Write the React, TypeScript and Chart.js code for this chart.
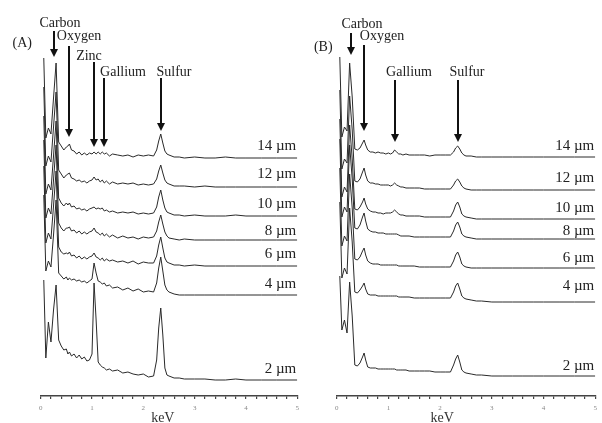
import React, { useEffect, useRef } from "react";
import { Chart, registerables } from "chart.js";

Chart.register(...registerables);

// ---------- DATA ----------
// Energy grid (keV) shared by every spectrum
const energyKeV = [
  0.06, 0.1, 0.15, 0.2, 0.25, 0.3, 0.35,
  0.4, 0.45, 0.5, 0.53, 0.56,
  0.6, 0.65, 0.7, 0.75, 0.8,
  0.85, 0.9, 0.95, 1.0, 1.04,
  1.08, 1.12, 1.16, 1.2, 1.24,
  1.28, 1.34, 1.4, 1.5, 1.6,
  1.7, 1.8, 1.9, 2.0, 2.1,
  2.2, 2.26, 2.3, 2.34, 2.38,
  2.42, 2.46, 2.5, 2.6, 2.7,
  2.8, 3.0, 3.2, 3.4, 3.6,
  3.8, 4.0, 4.3, 4.6, 5.0,
];

const thicknessLabels = ["14 µm", "12 µm", "10 µm", "8 µm", "6 µm", "4 µm", "2 µm"];

// Vertical stacking offset of each spectrum (counts, arbitrary units)
const stackOffsetA = [238, 209, 180, 156, 130, 101, 16];
const stackOffsetB = [239, 206, 177, 157, 128, 94, 20];

// Panel (A) intensities (arbitrary counts above each spectrum's tail)
const countsA14 = [100, 20, 30, 24, 60, 95, 16, 12, 8, 11, 12, 14, 8, 7, 4, 6, 3, 5, 3, 5, 4, 6, 4, 6, 4, 6, 4, 5, 2, 4, 3, 2, 3, 1, 3, 2, 3, 2, 8, 17, 24, 15, 7, 4, 3, 1, 1, 0, 1, 0, 0, 1, 0, 0, 0, 0, 0];
const countsA12 = [100, 21, 31, 25, 60, 95, 17, 13, 9, 12, 13, 14, 9, 8, 6, 7, 5, 6, 4, 6, 7, 10, 7, 8, 5, 7, 4, 6, 3, 5, 3, 4, 3, 4, 2, 3, 2, 3, 8, 16, 22, 14, 7, 4, 3, 1, 1, 1, 0, 1, 0, 0, 0, 0, 0, 0, 0];
const countsA10 = [100, 22, 32, 26, 60, 95, 18, 13, 10, 13, 11, 13, 9, 10, 7, 8, 6, 7, 5, 7, 8, 9, 7, 8, 7, 8, 5, 6, 4, 5, 3, 4, 3, 4, 2, 3, 2, 3, 9, 19, 26, 16, 8, 4, 3, 1, 1, 0, 1, 0, 0, 0, 1, 0, 0, 0, 0];
const countsA8 = [100, 22, 32, 26, 60, 95, 17, 12, 9, 12, 12, 13, 9, 10, 7, 9, 6, 8, 6, 8, 9, 12, 8, 7, 5, 7, 4, 6, 3, 5, 2, 4, 2, 3, 1, 3, 2, 3, 9, 18, 25, 16, 8, 4, 2, 1, 0, 1, 0, 0, 0, 0, 0, 0, 0, 0, 0];
const countsA6 = [100, 23, 33, 27, 60, 95, 19, 14, 12, 13, 12, 14, 10, 11, 8, 10, 7, 9, 7, 9, 10, 13, 9, 8, 6, 8, 5, 7, 5, 6, 4, 5, 3, 5, 2, 4, 3, 3, 10, 21, 29, 18, 8, 4, 3, 1, 1, 0, 1, 0, 0, 0, 0, 0, 0, 0, 0];
const countsA4 = [100, 24, 34, 28, 60, 95, 22, 19, 16, 18, 15, 17, 15, 16, 14, 15, 13, 14, 12, 14, 16, 32, 22, 14, 13, 11, 12, 9, 10, 7, 8, 5, 7, 4, 6, 3, 4, 3, 12, 27, 38, 24, 10, 5, 3, 1, 0, 0, 0, 0, 0, 0, 0, 0, 0, 0, 0];
const countsA2 = [100, 22, 58, 38, 70, 95, 40, 34, 30, 31, 26, 28, 24, 26, 22, 25, 21, 23, 19, 20, 26, 97, 60, 18, 15, 13, 12, 10, 11, 9, 10, 7, 8, 6, 5, 6, 3, 4, 20, 52, 72, 45, 12, 5, 4, 2, 2, 1, 1, 1, 0, 0, 1, 0, 0, 0, 0];

// Panel (B) intensities
const countsB14 = [100, 20, 30, 26, 94, 60, 8, 7, 9, 14, 17, 12, 7, 5, 5, 4, 5, 4, 4, 3, 4, 3, 4, 7, 5, 3, 3, 2, 3, 2, 2, 2, 2, 1, 2, 2, 2, 2, 5, 9, 11, 8, 4, 2, 1, 1, 0, 0, 0, 0, 0, 0, 0, 0, 0, 0, 0];
const countsB12 = [100, 21, 31, 27, 94, 60, 9, 8, 11, 18, 22, 15, 9, 7, 7, 6, 6, 5, 5, 5, 5, 4, 5, 7, 5, 4, 3, 3, 2, 2, 2, 2, 1, 1, 1, 1, 1, 1, 5, 9, 11, 8, 4, 2, 1, 0, 0, 0, 0, 0, 0, 0, 0, 0, 0, 0, 0];
const countsB10 = [100, 22, 32, 27, 94, 60, 10, 9, 12, 17, 21, 15, 10, 8, 7, 7, 6, 6, 5, 6, 6, 6, 7, 9, 7, 5, 4, 4, 3, 3, 3, 3, 2, 2, 2, 2, 2, 2, 8, 14, 17, 12, 5, 3, 2, 1, 0, 0, 0, 0, 0, 0, 0, 0, 0, 0, 0];
const countsB8 = [100, 22, 32, 27, 94, 60, 11, 10, 14, 22, 26, 18, 10, 8, 7, 7, 6, 6, 6, 5, 5, 5, 5, 5, 5, 4, 3, 3, 3, 3, 2, 2, 2, 2, 2, 2, 2, 2, 8, 14, 17, 12, 5, 3, 2, 1, 0, 0, 0, 0, 0, 0, 0, 0, 0, 0, 0];
const countsB6 = [100, 22, 32, 27, 94, 60, 9, 8, 11, 17, 20, 13, 7, 5, 4, 4, 4, 3, 3, 3, 3, 3, 3, 3, 3, 2, 2, 2, 2, 2, 2, 1, 1, 1, 1, 1, 1, 1, 7, 13, 16, 11, 4, 2, 1, 0, 0, 0, 0, 0, 0, 0, 0, 0, 0, 0, 0];
const countsB4 = [100, 24, 34, 28, 94, 60, 10, 9, 12, 16, 19, 13, 8, 7, 7, 7, 6, 6, 6, 6, 6, 6, 6, 6, 6, 5, 5, 5, 5, 5, 4, 4, 4, 4, 4, 4, 4, 4, 10, 16, 19, 13, 6, 4, 3, 2, 1, 1, 0, 0, 0, 0, 0, 0, 0, 0, 0];
const countsB2 = [100, 46, 56, 43, 94, 60, 11, 10, 13, 19, 23, 16, 9, 8, 8, 8, 7, 7, 7, 7, 7, 7, 7, 7, 6, 6, 6, 6, 6, 5, 5, 5, 5, 5, 4, 4, 4, 4, 11, 17, 21, 14, 6, 4, 3, 2, 1, 1, 0, 0, 0, 0, 0, 0, 0, 0, 0];

const tracesA = [countsA14, countsA12, countsA10, countsA8, countsA6, countsA4, countsA2];
const tracesB = [countsB14, countsB12, countsB10, countsB8, countsB6, countsB4, countsB2];

// Element lines marked by arrows
const elementsA = ["Carbon", "Oxygen", "Zinc", "Gallium", "Sulfur"];
const elementKeVA = [0.25, 0.56, 1.04, 1.23, 2.34];
const elementsB = ["Carbon", "Oxygen", "Gallium", "Sulfur"];
const elementKeVB = [0.27, 0.52, 1.13, 2.35];

// ---------- LAYOUT (annotation placement, in axis units / pixels) ----------
const layoutA = {
  panel: "(A)",
  panelKeV: -0.36,
  panelY: 349,
  arrowTop: [365, 350, 334, 318, 318],
  arrowTip: [339, 259, 249, 249, 265],
  labelDx: [6, 10, -5, 19, 13],
  labelY: [369, 356, 336, 320, 320],
  thickY: [246, 218, 188, 161, 138, 108, 23],
  titleKeV: 2.38,
};
const layoutB = {
  panel: "(B)",
  panelKeV: -0.26,
  panelY: 345,
  arrowTop: [363, 351, 316, 316],
  arrowTip: [341, 265, 254, 254],
  labelDx: [11, 18, 14, 9],
  labelY: [368, 356, 320, 320],
  thickY: [246, 214, 184, 161, 134, 106, 26],
  titleKeV: 2.04,
};

const SERIF = '"Liberation Serif", "Times New Roman", serif';

function makeAnnotationPlugin(layout: any, elements: string[], elementKeV: number[]) {
  return {
    id: "edsAnnotations",
    afterDraw(chart: any) {
      const { ctx, chartArea } = chart;
      const x = chart.scales.x;
      const y = chart.scales.y;
      ctx.save();
      // arrows + element names
      elementKeV.forEach((k, i) => {
        const px = Math.round(x.getPixelForValue(k));
        const yTop = y.getPixelForValue(layout.arrowTop[i]);
        const yTip = y.getPixelForValue(layout.arrowTip[i]);
        ctx.strokeStyle = "#111";
        ctx.lineWidth = 2;
        ctx.beginPath();
        ctx.moveTo(px, yTop);
        ctx.lineTo(px, yTip - 6);
        ctx.stroke();
        ctx.fillStyle = "#111";
        ctx.beginPath();
        ctx.moveTo(px - 4, yTip - 8);
        ctx.lineTo(px + 4, yTip - 8);
        ctx.lineTo(px, yTip);
        ctx.closePath();
        ctx.fill();
        ctx.fillStyle = "#222";
        ctx.font = `14px ${SERIF}`;
        ctx.textAlign = "center";
        ctx.textBaseline = "alphabetic";
        ctx.fillText(elements[i], px + layout.labelDx[i], y.getPixelForValue(layout.labelY[i]));
      });
      // panel letter
      ctx.fillStyle = "#222";
      ctx.font = `14px ${SERIF}`;
      ctx.textAlign = "center";
      ctx.fillText(layout.panel, x.getPixelForValue(layout.panelKeV), y.getPixelForValue(layout.panelY));
      // thickness labels
      ctx.font = `15px ${SERIF}`;
      ctx.textAlign = "right";
      thicknessLabels.forEach((t, i) => {
        ctx.fillText(t, chartArea.right - 1, y.getPixelForValue(layout.thickY[i]));
      });
      // axis title
      ctx.font = `14px ${SERIF}`;
      ctx.textAlign = "center";
      ctx.fillStyle = "#333";
      ctx.fillText("keV", x.getPixelForValue(layout.titleKeV), chart.height - 1);
      ctx.restore();
    },
  };
}

function SpectrumPanel(props: {
  width: number;
  left: number;
  padLeft: number;
  padRight: number;
  traces: number[][];
  offsets: number[];
  layout: any;
  elements: string[];
  elementKeV: number[];
}) {
  const ref = useRef<HTMLCanvasElement | null>(null);
  useEffect(() => {
    const canvas = ref.current;
    if (!canvas) return;
    const datasets = props.traces.map((vals, t) => ({
      label: thicknessLabels[t],
      data: energyKeV.map((e, i) => ({ x: e, y: vals[i] + props.offsets[t] })),
      borderColor: "#2a2a2a",
      borderWidth: 1,
      pointRadius: 0,
      tension: 0,
      fill: false,
    }));
    const chart = new Chart(canvas, {
      type: "line",
      data: { datasets },
      options: {
        animation: false,
        responsive: false,
        devicePixelRatio: 1,
        layout: { padding: { left: props.padLeft, right: props.padRight, top: 0, bottom: 5.6 } },
        plugins: { legend: { display: false }, tooltip: { enabled: false } },
        scales: {
          x: {
            type: "linear",
            min: 0,
            max: 5,
            position: "bottom",
            ticks: {
              stepSize: 0.2,
              autoSkip: false,
              maxRotation: 0,
              minRotation: 0,
              padding: 5,
              color: "#888",
              font: { family: SERIF, size: 7 },
              callback: (v: any) => {
                const n = Number(v);
                return Math.abs(n - Math.round(n)) < 1e-6 ? String(Math.round(n)) : "";
              },
            },
            grid: { display: true, drawOnChartArea: false, drawTicks: true, tickLength: 3, color: "#444", lineWidth: 1.2 },
            border: { display: true, color: "#444", width: 1.5 },
          },
          y: { display: false, min: 0, max: 396 },
        },
      },
      plugins: [makeAnnotationPlugin(props.layout, props.elements, props.elementKeV)],
    } as any);
    return () => chart.destroy();
  }, []);
  return (
    <canvas
      ref={ref}
      width={props.width}
      height={423}
      style={{ position: "absolute", left: props.left, top: 0, width: props.width, height: 423 }}
    />
  );
}

export default function App() {
  return (
    <div style={{ position: "fixed", left: 0, top: 0, width: 602, height: 423, background: "#fff", overflow: "hidden" }}>
      <SpectrumPanel
        width={304}
        left={0}
        padLeft={40.7}
        padRight={2}
        traces={tracesA}
        offsets={stackOffsetA}
        layout={layoutA}
        elements={elementsA}
        elementKeV={elementKeVA}
      />
      <SpectrumPanel
        width={298}
        left={304}
        padLeft={32.7}
        padRight={4.3}
        traces={tracesB}
        offsets={stackOffsetB}
        layout={layoutB}
        elements={elementsB}
        elementKeV={elementKeVB}
      />
    </div>
  );
}
